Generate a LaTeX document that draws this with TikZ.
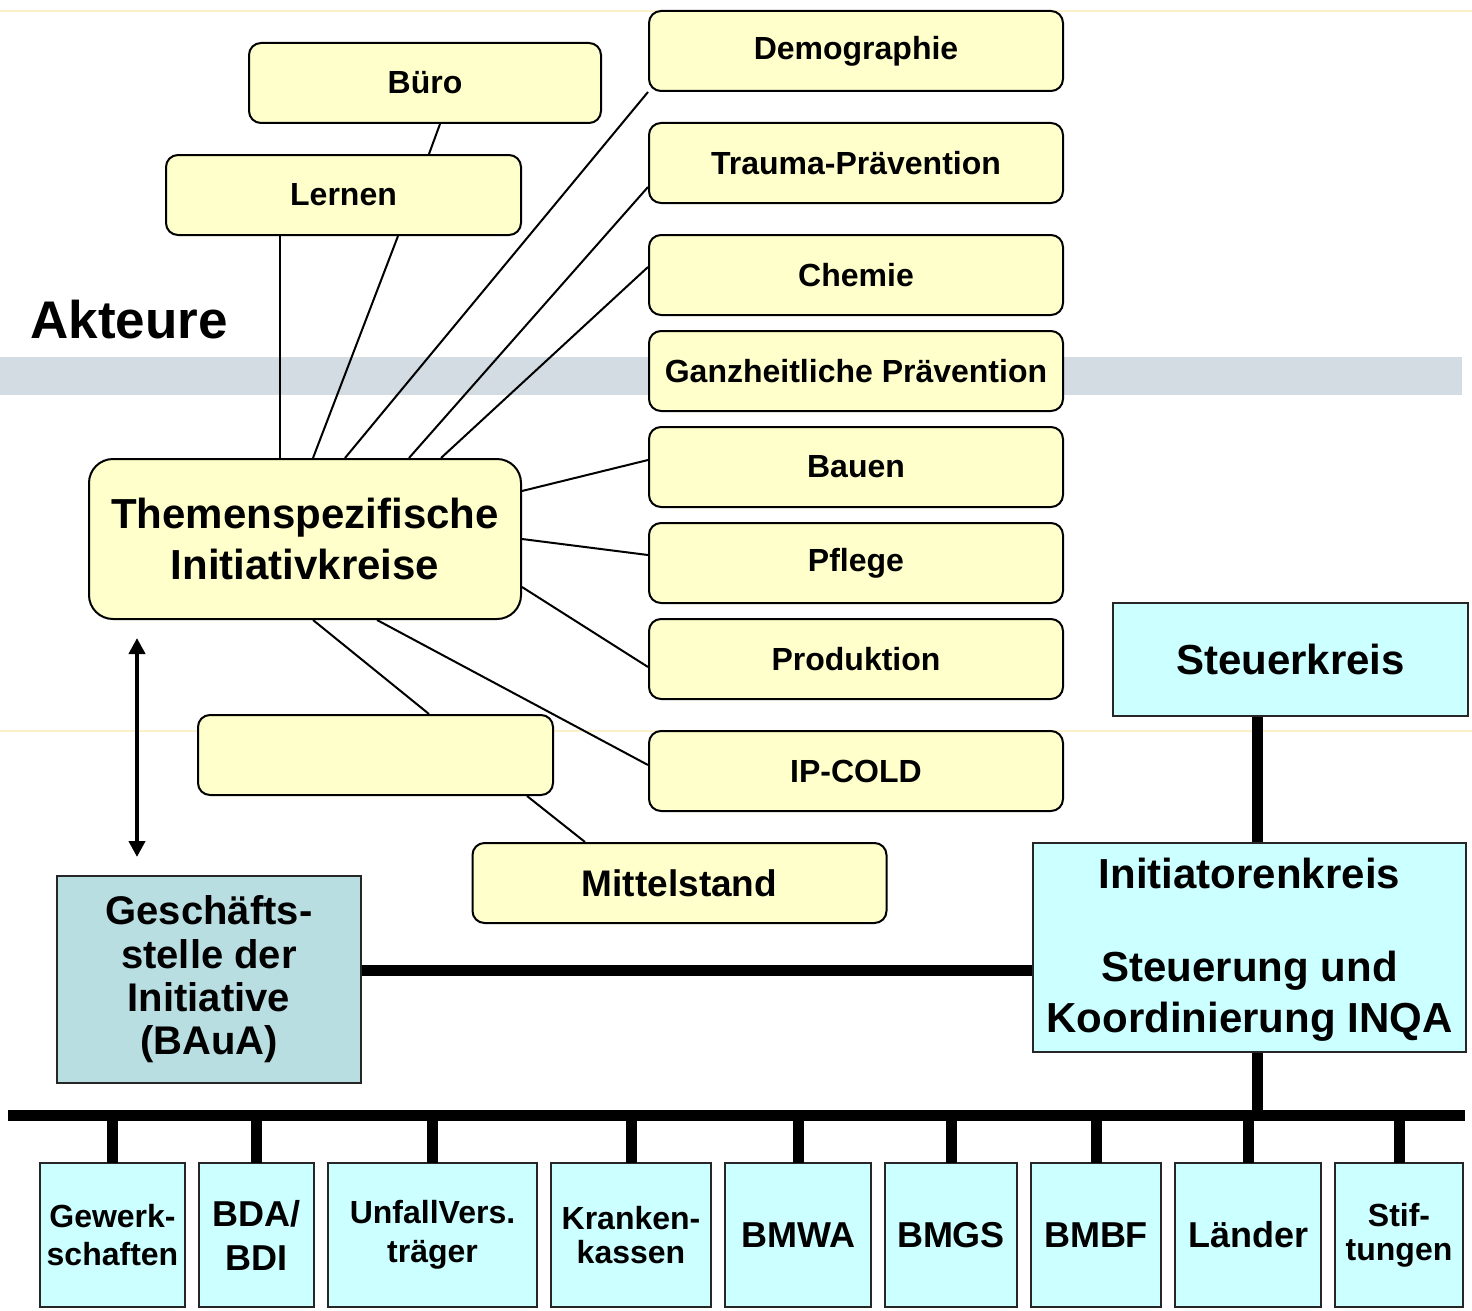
\documentclass[tikz,border=0pt]{standalone}
\usepackage{fontspec}
\setmainfont{Liberation Sans}
\usetikzlibrary{positioning,arrows.meta}
\definecolor{gelb}{RGB}{255,255,204}
\definecolor{hellblau}{RGB}{204,255,255}
\definecolor{graublau}{RGB}{185,222,226}
\definecolor{band}{RGB}{211,220,227}
\definecolor{hauch}{RGB}{252,240,200}
\tikzstyle{thema} = [rectangle, rounded corners=6pt, minimum width=207pt, minimum height=40pt, text centered, draw=black, line width=1pt, fill=gelb, font=\bfseries\fontsize{16}{19}\selectfont]
\tikzstyle{kreis} = [rectangle, draw=black!85, line width=1pt, fill=hellblau, align=center, inner sep=0pt, font=\bfseries\fontsize{21}{25.5}\selectfont]
\tikzstyle{traeger} = [rectangle, draw=black!85, line width=1pt, fill=hellblau, minimum height=72pt, align=center, inner sep=0pt, outer sep=0pt]
\tikzstyle{linie} = [line width=1pt]
\tikzstyle{balken} = [line width=5.5pt]
\tikzstyle{pfeil} = [line width=2pt, {Triangle[length=8pt,width=8pt]}-{Triangle[length=8pt,width=8pt]}]
\begin{document}
\begin{tikzpicture}[x=0.5pt, y=-0.5pt, node distance=48pt]

	\useasboundingbox (0,0) rectangle (1472,1311);
	\fill [band] (0,357) rectangle (1462,395);
	\draw [hauch, line width=0.75pt] (0,11) -- (1472,11);
	\draw [hauch, line width=0.75pt] (0,731) -- (1472,731);

	\node (akteure) [anchor=west, inner sep=0pt, font=\bfseries\fontsize{26.5}{30}\selectfont] at (30,320) {Akteure};

	\node (buero) [thema, minimum width=176pt] at (425,83) {Büro};
	\node (lernen) [thema, minimum width=177.5pt] at (343.5,195) {Lernen};

	\node (demo) [thema] at (856,51) {Demographie};
	\node (trauma) [thema, below of=demo, yshift=-8pt] {Trauma-Prävention};
	\node (chemie) [thema, below of=trauma, yshift=-8pt] {Chemie};
	\node (ganz) [thema, below of=chemie] {Ganzheitliche Prävention};
	\node (bauen) [thema, below of=ganz] {Bauen};
	\node (pflege) [thema, below of=bauen] {Pflege};
	\node (produktion) [thema, below of=pflege] {Produktion};
	\node (ipcold) [thema, below of=produktion, yshift=-8pt] {IP-COLD};

	\node (themen) [thema, rounded corners=12pt, minimum width=216pt, minimum height=80pt, align=center, font=\bfseries\fontsize{21}{25.5}\selectfont] at (305,539) {Themenspezifische\\Initiativkreise};

	\node (leer) [thema, minimum width=177.5pt] at (375.5,755) {};
	\node (mittel) [thema, font=\bfseries\fontsize{18.5}{22}\selectfont] at (679.5,883) {Mittelstand};

	\node (gs) [kreis, fill=graublau, minimum width=152pt, minimum height=103.5pt, font=\bfseries\fontsize{20}{21.7}\selectfont] at (209,979.5) {Geschäfts-\\stelle der\\Initiative\\(BAuA)};

	\node (steuer) [kreis, minimum width=177.5pt, minimum height=56.5pt] at (1290.5,659.5) {Steuerkreis};
	\node (init) [kreis, minimum width=216.5pt, minimum height=104.5pt, text depth=2pt] at (1249.5,947.5) {Initiatorenkreis\\[21pt]Steuerung und\\Koordinierung INQA};

	\node (gewerk) [traeger, minimum width=72.5pt, font=\bfseries\fontsize{16}{19}\selectfont] at (112.5,1235) {Gewerk-\\schaften};
	\node (bda) [traeger, minimum width=57.5pt, right=7pt of gewerk, font=\bfseries\fontsize{18}{22}\selectfont] {BDA/\\BDI};
	\node (unfall) [traeger, minimum width=104.5pt, right=7pt of bda, font=\bfseries\fontsize{16}{19.5}\selectfont] {UnfallVers.\\träger};
	\node (kranken) [traeger, minimum width=80pt, right=7pt of unfall, font=\bfseries\fontsize{16}{17}\selectfont] {Kranken-\\kassen};
	\node (bmwa) [traeger, minimum width=73pt, right=7pt of kranken, font=\bfseries\fontsize{18}{22}\selectfont] {BMWA};
	\node (bmgs) [traeger, minimum width=66pt, right=7pt of bmwa, font=\bfseries\fontsize{18}{22}\selectfont] {BMGS};
	\node (bmbf) [traeger, minimum width=65pt, right=7pt of bmgs, font=\bfseries\fontsize{18}{22}\selectfont] {BMBF};
	\node (laender) [traeger, minimum width=73pt, right=7pt of bmbf, font=\bfseries\fontsize{18}{22}\selectfont] {Länder};
	\node (stift) [traeger, minimum width=64pt, right=7pt of laender, font=\bfseries\fontsize{16}{17}\selectfont] {Stif-\\tungen};

	\coordinate (busL) at (8,1115);
	\coordinate (busR) at (1465,1115);

	\draw [linie] ([xshift=7.5pt]buero.south) -- ([xshift=42.75pt]lernen.north);
	\draw [linie] ([xshift=-31.75pt]lernen.south) -- ([xshift=-12.5pt]themen.north);
	\draw [linie] ([xshift=27.25pt]lernen.south) -- ([xshift=4pt]themen.north);
	\draw [linie] (demo.south west) -- ([xshift=20pt]themen.north);
	\draw [linie] ([yshift=-12pt]trauma.west) -- ([xshift=52pt]themen.north);
	\draw [linie] ([yshift=4pt]chemie.west) -- ([xshift=68pt]themen.north);
	\draw [linie] ([yshift=3.5pt]bauen.west) -- ([yshift=24pt]themen.east);
	\draw [linie] ([yshift=4pt]pflege.west) -- (themen.east);
	\draw [linie] ([yshift=-4pt]produktion.west) -- ([yshift=-24pt]themen.east);
	\draw [linie] ([yshift=3pt]ipcold.west) -- ([xshift=36pt]themen.south);
	\draw [linie] ([xshift=26.75pt]leer.north) -- ([xshift=4pt]themen.south);
	\draw [linie] ([xshift=75.75pt]leer.south) -- ([xshift=-47.25pt]mittel.north);

	\draw [pfeil] ([xshift=-84pt,yshift=-9pt]themen.south) -- ([xshift=-36pt,yshift=9pt]gs.north);

	\draw [balken] ([yshift=4.75pt]gs.east) -- ([yshift=4.75pt]gs.east -| init.west);
	\draw [balken] ([xshift=-16.75pt]steuer.south) -- ([xshift=-16.75pt]steuer.south |- init.north);
	\draw [balken] ([xshift=3.75pt]init.south) -- ([xshift=3.75pt]init.south |- busL);
	\draw [balken] (busL) -- (busR);
	\foreach \n in {gewerk,bda,unfall,kranken,bmwa,bmgs,bmbf,laender,stift}
		\draw [balken] (\n.north) -- (\n.north |- busL);

\end{tikzpicture}
\end{document}
